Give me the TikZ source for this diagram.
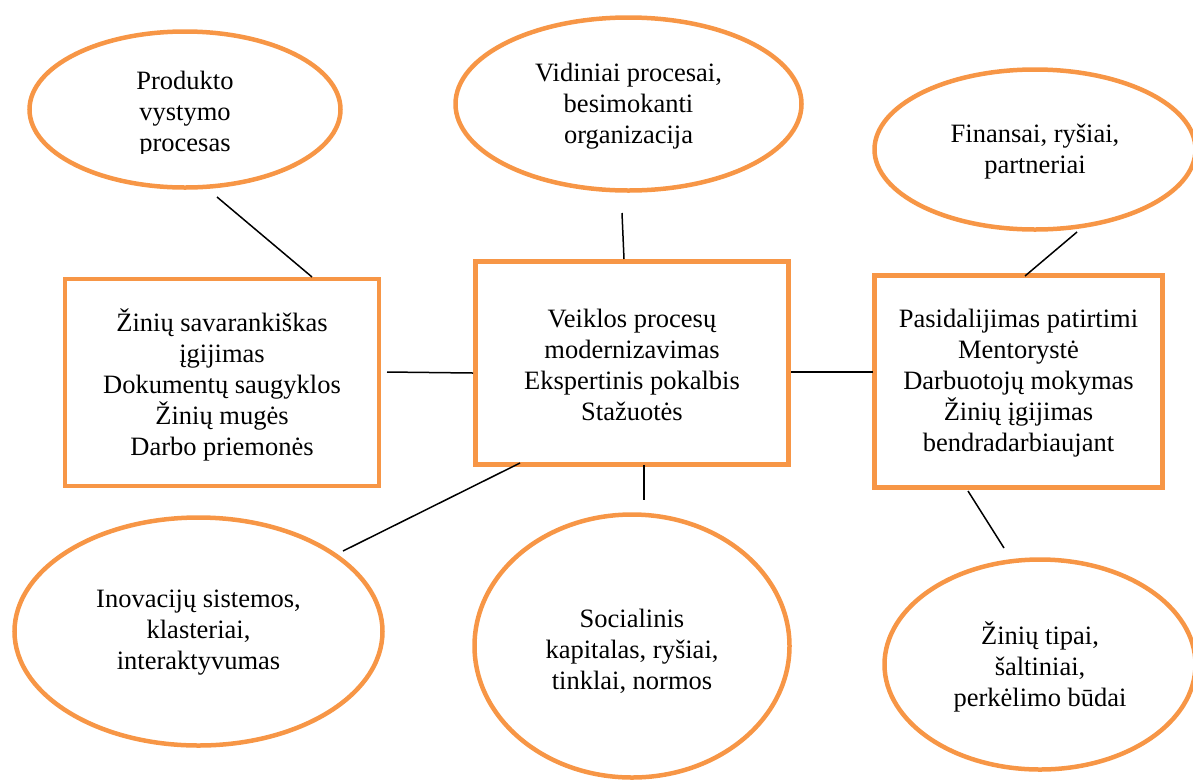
\documentclass[tikz,border=0pt]{standalone}
\usepackage{fontspec}
\setmainfont{Liberation Serif}
\usetikzlibrary{shapes.geometric}
\definecolor{accent}{HTML}{F79646}
\begin{document}
\begin{tikzpicture}[x=1pt,y=-1pt,
  every node/.style={font=\fontsize{26.5}{31}\selectfont, align=center, inner sep=0pt},
  topic/.style={draw=accent, line width=4.5pt, ellipse},
  block/.style={draw=accent, line width=4.5pt, rectangle},
  link/.style={draw=black, line width=1.5pt}]
\useasboundingbox (0,0) rectangle (1193,780);

% central blocks
\node[block, minimum width=314pt, minimum height=207pt] (left) at (222,382.5) {};
\node (lefttext) at (222,384.5)
  {Žinių savarankiškas\\įgijimas\\Dokumentų saugyklos\\Žinių mugės\\Darbo priemonės};
\node[block, minimum width=313pt, minimum height=203pt] (mid) at (632,363) {};
\node (midtext) at (632,364.5)
  {Veiklos procesų\\modernizavimas\\Ekspertinis pokalbis\\Stažuotės};
\node[block, minimum width=288pt, minimum height=212pt] (right) at (1018.5,381.5) {};
\node (righttext) at (1018.5,383)
  {Pasidalijimas patirtimi\\Mentorystė\\Darbuotojų mokymas\\Žinių įgijimas\\bendradarbiaujant};

% surrounding topics
\node[topic, minimum width=311pt, minimum height=156pt] (prod) at (185,109.5) {};
\begin{scope}
  \clip (0,0) rectangle (1193,153);
  \node (prodtext) at (185,114.5) {Produkto\\vystymo\\procesas};
\end{scope}
\node[topic, minimum width=346pt, minimum height=173pt] (vid) at (628.5,104) {};
\node (vidtext) at (628.5,106.5) {Vidiniai procesai,\\besimokanti\\organizacija};
\node[topic, minimum width=321pt, minimum height=160pt] (fin) at (1035,149.5) {};
\node (fintext) at (1035,152) {Finansai, ryšiai,\\partneriai};
\node[topic, minimum width=368pt, minimum height=228pt] (inov) at (198.5,631.5) {};
\node (inovtext) at (198.5,633) {Inovacijų sistemos,\\klasteriai,\\interaktyvumas};
\node[topic, minimum width=315pt, minimum height=263pt] (soc) at (632,646) {};
\node (soctext) at (632,651.5) {Socialinis\\kapitalas, ryšiai,\\tinklai, normos};
\node[topic, minimum width=311pt, minimum height=210pt] (tip) at (1040,664.5) {};
\node (tiptext) at (1040,667) {Žinių tipai,\\šaltiniai,\\perkėlimo būdai};

% connector end points
\coordinate (prodA) at (217,197);  \coordinate (leftA) at (312,277);
\coordinate (vidA)  at (622,213);  \coordinate (midA)  at (624,259);
\coordinate (finA)  at (1077,232); \coordinate (rightA) at (1025,276);
\coordinate (leftB) at (387,372);  \coordinate (midB)  at (473,373);
\coordinate (midC)  at (791,372);  \coordinate (rightB) at (873,372);
\coordinate (inovA) at (343,551);  \coordinate (midD)  at (520,463);
\coordinate (midE)  at (644,465);  \coordinate (socA)  at (644,500);
\coordinate (rightC) at (968,491); \coordinate (tipA)  at (1004,548);

\draw[link] (prodA) -- (leftA);
\draw[link] (vidA) -- (midA);
\draw[link] (finA) -- (rightA);
\draw[link] (leftB) -- (midB);
\draw[link] (midC) -- (rightB);
\draw[link] (inovA) -- (midD);
\draw[link] (midE) -- (socA);
\draw[link] (rightC) -- (tipA);
\end{tikzpicture}
\end{document}
